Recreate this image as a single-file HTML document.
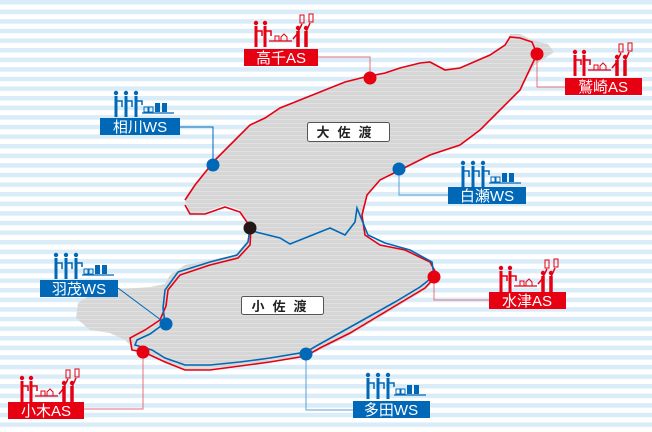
<!DOCTYPE html>
<html><head><meta charset="utf-8"><style>
html,body{margin:0;padding:0;width:652px;height:432px;overflow:hidden;background:#fff}
svg{display:block}
text{font-family:"Liberation Sans","Noto Sans CJK JP",sans-serif}
</style></head><body>
<svg width="652" height="432" viewBox="0 0 652 432" xmlns="http://www.w3.org/2000/svg">
<defs>
<pattern id="st" width="652" height="9.6" patternUnits="userSpaceOnUse">
<rect width="652" height="9.6" fill="#fff"/><rect y="0" width="652" height="4.5" fill="#d9ecf8"/>
</pattern>
<pattern id="gs" width="10" height="4" patternUnits="userSpaceOnUse">
<rect width="10" height="4" fill="#d6d6d6"/><rect y="3" width="10" height="1" fill="#e0e0e0"/>
</pattern>
<g id="ws">
<g fill="#0068b7" stroke="#0068b7">
<circle cx="2" cy="2" r="2.2" stroke="none"/><circle cx="12" cy="2" r="2.2" stroke="none"/><circle cx="22" cy="2" r="2.2" stroke="none"/>
<path d="M2 5V26M12 5V26M22 5V26" stroke-width="3" fill="none"/>
<path d="M2 10H8V16M12 10H18V16M22 10H28V14" stroke-width="1.5" fill="none"/>
<path d="M28 22H60" stroke-width="1.2"/>
<rect x="30" y="16" width="4" height="5" fill="none" stroke-width="1"/><rect x="35" y="16" width="4" height="5" fill="none" stroke-width="1"/>
<rect x="41" y="12" width="5" height="9" stroke="none"/><rect x="48" y="12" width="5" height="9" stroke="none"/>
</g></g>
<g id="as">
<g fill="#e60012" stroke="#e60012">
<circle cx="2" cy="2" r="2.2" stroke="none"/><circle cx="11" cy="2" r="2.2" stroke="none"/>
<path d="M2 5V26M11 5V26" stroke-width="3" fill="none"/>
<path d="M2 10H8V15M11 10H17V15" stroke-width="1.5" fill="none"/>
<path d="M15 20H38" stroke-width="1.2"/>
<rect x="21" y="15" width="4" height="5" fill="none" stroke-width="1"/><path d="M27 20V16L30 13L33 16V20" fill="none" stroke-width="1"/>
<circle cx="44" cy="7" r="2.2" stroke="none"/><circle cx="52" cy="7" r="2.2" stroke="none"/>
<path d="M44 10V26M52 10V26" stroke-width="3.5" fill="none"/>
<path d="M44 11L48 3M52 11L56 2M44 12L39 18" stroke-width="1.5" fill="none"/>
<rect x="46" y="-6" width="4" height="8" fill="none" stroke-width="1"/><rect x="55" y="-7" width="4" height="8" fill="none" stroke-width="1"/>
</g></g>
</defs>
<rect width="652" height="432" fill="url(#st)"/>
<!-- island -->
<path d="M185,200 L195,185 L215,160 L235,140 L250,125 L265,118 L280,108 L300,100 L320,92 L345,82 L365,77 L385,73 L400,68 L420,63 L430,62 L445,70 L460,68 L490,55 L505,45 L510,34 L520,34 L532,40 L548,44 L554,52 L535,65 L515,95 L500,110 L480,130 L460,145 L430,155 L400,170 L380,180 L367,195 L362,215 L365,235 L380,245 L405,250 L430,262 L440,275 L425,290 L400,305 L375,320 L350,335 L320,350 L300,358 L270,362 L240,365 L210,370 L185,370 L165,362 L150,354 L135,350 L125,340 L110,333 L90,330 L76,318 L78,303 L92,294 L110,290 L150,287 L165,284 L170,275 L185,265 L210,260 L235,255 L248,240 L250,225 L240,210 L225,205 L205,212 L190,214 Z" fill="url(#gs)"/>
<!-- red coast -->
<path d="M185,200 L195,185 L215,160 L235,140 L250,125 L265,118 L280,108 L300,100 L320,92 L345,82 L365,77 L385,73 L400,68 L420,63 L430,62 L445,70 L460,68 L490,55 L505,45 L510,37 L520,38 L532,42 L537,54 L520,90 L500,110 L480,130 L460,145 L430,155 L400,170 L380,180 L367,195 L362,215 L365,235 L380,245 L405,250 L430,262 L437,275 L425,288 L400,303 L375,318 L350,333 L320,348 L306,356 L270,362 L240,366 L210,370 L185,370 L165,362 L150,355 L143,352 L132,350 L130,338 L145,330 L160,320 L166,306 L168,290 L180,275 L210,265 L238,258 L250,245 L251,228 L240,212 L225,207 L205,214 L190,214 L185,205" fill="none" stroke="#e60012" stroke-width="1.6"/>
<!-- blue -->
<path d="M250,228 L256,232 L280,238 L290,244 L330,228 L345,235 L355,222 L357,208 L368,235 L385,243 L410,250 L432,262 L434,276 L420,287 L395,302 L370,316 L345,330 L318,345 L306,352 L270,358 L240,362 L210,365 L185,365 L165,358 L152,350 L135,345 L137,340 L150,334 L165,323 L163,308 L165,290 L178,272 L210,262 L237,255 L248,242 L250,228" fill="none" stroke="#0068b7" stroke-width="1.6"/>
<!-- labels on island -->
<rect x="307.5" y="122.5" width="82" height="19" rx="2" fill="#fff" stroke="#555"/>
<text x="348" y="137" font-size="13" font-weight="bold" text-anchor="middle" fill="#222" letter-spacing="8">大佐渡</text>
<rect x="241.5" y="296.5" width="82" height="18" rx="2" fill="#fff" stroke="#555"/>
<text x="283" y="311" font-size="13" font-weight="bold" text-anchor="middle" fill="#222" letter-spacing="8">小佐渡</text>
<!-- connector lines -->
<g fill="none" stroke-width="1">
<path d="M318,57H370V78" stroke="#e8707a"/>
<path d="M537,54V87H565" stroke="#e8707a"/>
<path d="M180,127H213V165" stroke="#0068b7"/>
<path d="M399,169V195H448" stroke="#5a9fd6"/>
<path d="M434,277V300H489" stroke="#e8707a"/>
<path d="M118,288L165,323" stroke="#0068b7"/>
<path d="M143,352V409H84" stroke="#e8707a"/>
<path d="M306,354V410H353" stroke="#5a9fd6"/>
</g>
<!-- dots -->
<circle cx="370" cy="78" r="6.5" fill="#e60012"/>
<circle cx="537" cy="54" r="6.5" fill="#e60012"/>
<circle cx="213" cy="165" r="6.5" fill="#0068b7"/>
<circle cx="399" cy="169" r="6.5" fill="#0068b7"/>
<circle cx="250" cy="228" r="6.5" fill="#231815"/>
<circle cx="434" cy="277" r="6.5" fill="#e60012"/>
<circle cx="166" cy="324" r="6.5" fill="#0068b7"/>
<circle cx="143" cy="352" r="6.5" fill="#e60012"/>
<circle cx="306" cy="354" r="6.5" fill="#0068b7"/>
<!-- icons -->
<use href="#as" x="254" y="21"/>
<use href="#as" x="573" y="50"/>
<use href="#ws" x="114" y="91"/>
<use href="#ws" x="461" y="161"/>
<use href="#as" x="499" y="266"/>
<use href="#ws" x="54" y="253"/>
<use href="#as" x="20" y="376"/>
<use href="#ws" x="366" y="373"/>
<!-- label boxes -->
<g font-size="15" fill="#fff" text-anchor="middle">
<rect x="244" y="49" width="74" height="17" fill="#e60012"/><text x="281" y="63">高千AS</text>
<rect x="565" y="78" width="77" height="17" fill="#e60012"/><text x="603" y="92">鷲崎AS</text>
<rect x="100" y="118" width="80" height="17" fill="#0068b7"/><text x="140" y="132">相川WS</text>
<rect x="448" y="187" width="78" height="17" fill="#0068b7"/><text x="487" y="201">白瀬WS</text>
<rect x="489" y="292" width="77" height="17" fill="#e60012"/><text x="527" y="306">水津AS</text>
<rect x="40" y="280" width="78" height="17" fill="#0068b7"/><text x="79" y="294">羽茂WS</text>
<rect x="8" y="402" width="76" height="17" fill="#e60012"/><text x="46" y="416">小木AS</text>
<rect x="353" y="401" width="77" height="17" fill="#0068b7"/><text x="391" y="415">多田WS</text>
</g>
</svg>
</body></html>
